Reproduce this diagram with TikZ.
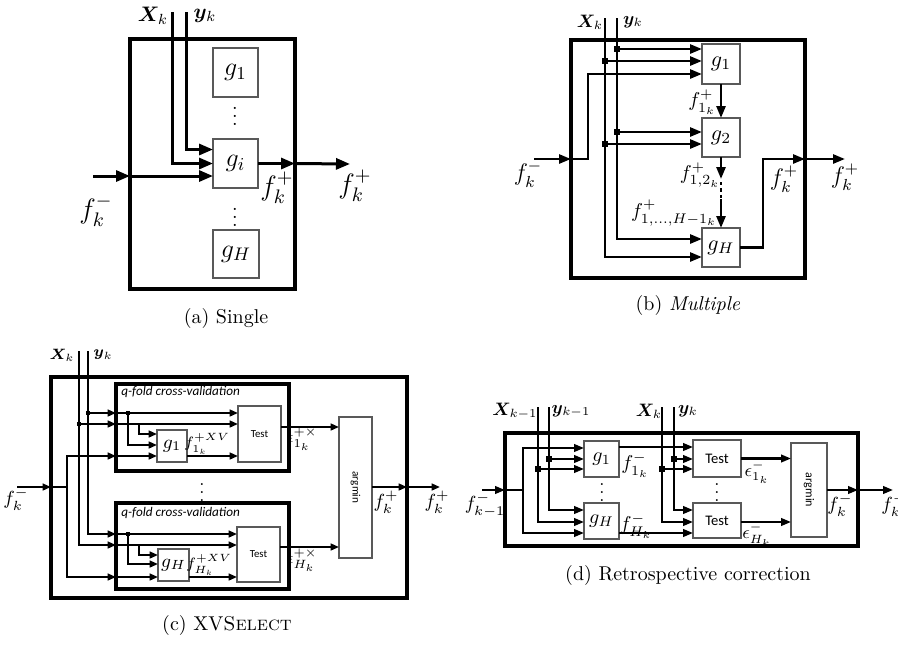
\RequirePackage{fix-cm}
\documentclass[tikz,border=0pt]{standalone}
\usepackage{fontspec}
\usepackage{amsmath,bm}
\newfontfamily\calfont{Carlito}
\usetikzlibrary{arrows.meta,calc}
\newcommand\bxn[7]{\node[#1,anchor=north west,inner sep=0pt,outer sep=0pt,minimum width={(#4-#2)*0.5pt},minimum height={(#5-#3)*0.5pt}] (#6) at (#2,#3) {#7};}
\begin{document}
\begin{tikzpicture}[x=0.5pt,y=-0.5pt,
  fs/.style={font=\fontsize{#1}{#1}\selectfont},
  lb/.style={inner sep=0pt},
  thinbox/.style={draw=black!65,line width=0.6pt,fill=white},
  junc/.style={fill=black,inner sep=0pt,minimum size=#1},
  junc/.default=3pt,
  cal/.style={font=\calfont\fontsize{#1}{#1}\selectfont},
  calit/.style={font=\calfont\itshape\fontsize{#1}{#1}\selectfont}]
\useasboundingbox (0,0) rectangle (898,644);

% ---------------- (a) Single
\begin{scope}[wire/.style={line width=1.5pt}, ar/.style={wire,-{Triangle[length=7pt,width=5.5pt]}}]
\bxn{draw,line width=2pt}{130}{39}{295}{289}{aout}{}
\bxn{thinbox,fs=13}{213}{48}{258}{97}{ag1}{$g_1$}
\bxn{thinbox,fs=13}{213}{139}{258}{188}{agi}{$g_i$}
\bxn{thinbox,fs=13}{213}{230}{259}{278}{agH}{$g_H$}
\node[lb,fs=10] (adots1) at (235,110) {$\vdots$};
\node[lb,fs=10] (adots2) at (235,211) {$\vdots$};
\node[lb,fs=10.5] (aXl) at (153,16) {$\bm{X}_k$};
\node[lb,fs=10.5] (ayl) at (205,16) {$\bm{y}_k$};
\coordinate (aXt) at (172,12);
\coordinate (ayt) at (186,12);
\coordinate (afin) at (93,176);
\coordinate (afout) at (350,164);
\draw[ar] (aXt) |- (agi.west);
\draw[ar] (ayt) |- ($(agi.west)+(0,-14)$);
\draw[ar] (afin) -- (aout.west |- afin);
\draw[ar] (aout.west |- afin) -- (agi.west |- afin);
\draw[ar] (agi.east) -- (aout.east |- agi.east);
\draw[ar] (aout.east |- agi.east) -- (afout);
\node[lb,fs=14] (afp1) at (277,188) {$f^+_k$};
\node[lb,fs=14] (afp2) at (355,186) {$f^+_k$};
\node[lb,fs=14] (afm) at (96,211) {$f^-_k$};
\node[lb] (acap) at (226,318) {(a) Single};
\end{scope}

% ---------------- (b) Multiple
\begin{scope}[wire/.style={line width=1.3pt}, ar/.style={wire,-{Triangle[length=6pt,width=4.5pt]}}]
\bxn{draw,line width=1.7pt}{571}{40}{805}{278}{bout}{}
\bxn{thinbox,fs=11}{702}{44}{740}{84}{bg1}{$g_1$}
\bxn{thinbox,fs=11}{702}{118}{740}{157}{bg2}{$g_2$}
\bxn{thinbox,fs=11}{702}{228}{740}{267}{bgH}{$g_H$}
\node[lb,fs=9] (bXl) at (590,22) {$\bm{X}_k$};
\node[lb,fs=9] (byl) at (633,22) {$\bm{y}_k$};
\coordinate (bXt) at (605,18);
\coordinate (byt) at (617,18);
\draw[ar] (bXt) |- ($(bgH.west)+(0,9.5)$);
\draw[ar] (byt) |- ($(bgH.west)+(0,-8.5)$);
\node[junc=3pt] (byj1) at (617,49) {};
\node[junc=2.6pt] (bXj1) at (605,61) {};
\node[junc=3pt] (byj2) at (617,132) {};
\node[junc=2.6pt] (bXj2) at (605,144) {};
\draw[ar] (byj1.center) -- (bg1.west |- byj1);
\draw[ar] (bXj1.center) -- (bg1.west |- bXj1);
\draw[ar] (byj2.center) -- (bg2.west |- byj2);
\draw[ar] (bXj2.center) -- (bg2.west |- bXj2);
\coordinate (bfin) at (534,159);
\coordinate (bfk) at (588,159);
\draw[ar] (bfin) -- (bout.west |- bfin);
\draw[ar] (bout.west |- bfin) -- (bfk) |- ($(bg1.west)+(0,10)$);
\draw[ar] (bg1.south) -- (bg2.north);
\coordinate (bc1) at (721,179);
\coordinate (bc1b) at (721,182);
\coordinate (bc2) at (721,199);
\draw[ar] (bg2.south) -- (bc1);
\draw[line width=1.3pt,dash pattern=on 1.6pt off 1.6pt] (bc1b) -- (bc2);
\draw[ar] (bc2) -- (bgH.north);
\coordinate (bo1) at (763,159);
\coordinate (bfout) at (845,159);
\draw[ar] (bgH.east) -| (bo1) -- (bout.east |- bo1);
\draw[ar] (bout.east |- bo1) -- (bfout);
\node[lb,fs=10] (bf1) at (702,102) {$f^+_{1_k}$};
\node[lb,fs=10] (bf12) at (700,175) {$f^+_{1,2_k}$};
\node[lb,fs=10] (bf1H) at (674,213) {$f^+_{1,\dots,H-1_k}$};
\node[lb,fs=12] (bfp1) at (784,179) {$f^+_k$};
\node[lb,fs=12] (bfp2) at (845,177) {$f^+_k$};
\node[lb,fs=12] (bfm) at (528,174) {$f^-_k$};
\node[lb] (bcap) at (688,305) {(b) \textit{Multiple}};
\end{scope}

% ---------------- (c) XVSelect
\begin{scope}[wire/.style={line width=1pt}, ar/.style={wire,-{Triangle[length=4.2pt,width=3.4pt]}}]
\bxn{draw,line width=1.6pt}{51}{377}{407}{598}{cout}{}
\bxn{draw,line width=1.6pt}{116}{384}{289}{471}{ci1}{}
\bxn{draw,line width=1.6pt}{116}{503}{289}{589}{ci2}{}
\node[lb,anchor=west,calit=6.6] (cq1) at (121,392) {q-fold cross-validation};
\node[lb,anchor=west,calit=6.6] (cq2) at (121,513) {q-fold cross-validation};
\bxn{thinbox,cal=5.4}{238}{406}{281}{462}{ct1}{Test}
\bxn{thinbox,cal=5.4}{237}{527}{280}{582}{ct2}{Test}
\bxn{thinbox,fs=9.5}{157}{430}{187}{462}{cg1}{$g_1$}
\bxn{thinbox,fs=9.5}{158}{549}{189}{581}{cgH}{$g_H$}
\bxn{thinbox}{339}{417}{372}{558}{ca}{}
\node[lb,rotate=-90,cal=5.6] (catx) at (ca.center) {argmin};
\node[lb,fs=7.5] (cXl) at (62,355) {$\bm{X}_k$};
\node[lb,fs=7.5] (cyl) at (103,355) {$\bm{y}_k$};
\coordinate (cXt) at (79,351);
\coordinate (cyt) at (88,351);
\coordinate (cXc) at (79,545);
\coordinate (cyc) at (88,534);
\draw[ar] (cXt) |- (ci2.west |- cXc);
\draw[ar] (ci2.west |- cXc) -- (ct2.west |- cXc);
\draw[ar] (cyt) |- (ci2.west |- cyc);
\draw[ar] (ci2.west |- cyc) -- (ct2.west |- cyc);
\node[junc=2.3pt] (cyj1) at (88,413) {};
\node[junc=2.3pt] (cXj1) at (79,424) {};
\draw[ar] (cyj1.center) -- (ci1.west |- cyj1);
\draw[ar] (ci1.west |- cyj1) -- (ct1.west |- cyj1);
\draw[ar] (cXj1.center) -- (ci1.west |- cXj1);
\draw[ar] (ci1.west |- cXj1) -- (ct1.west |- cXj1);
\node[junc=2.3pt] (cyk1) at (128,413) {};
\node[junc=2.3pt] (cyk2) at (128,534) {};
\coordinate (cxb1) at (139,424);
\coordinate (cxb2) at (139,545);
\draw[ar] (cyk1.center) |- ($(cg1.west)+(0,-1)$);
\draw[ar] (cxb1) |- ($(cg1.west)+(0,-12)$);
\draw[ar] (cyk2.center) |- ($(cgH.west)+(0,-1)$);
\draw[ar] (cxb2) |- ($(cgH.west)+(0,-10)$);
\coordinate (cfin) at (17,487);
\coordinate (cfv) at (67,487);
\coordinate (cf1) at (67,456);
\coordinate (cf2) at (67,577);
\draw[ar] (cfin) -- (cout.west |- cfin);
\draw[wire] (cout.west |- cfin) -- (cfv);
\draw[ar] (cfv) |- (ci1.west |- cf1);
\draw[ar] (cfv) |- (ci2.west |- cf2);
\draw[ar] (ci1.west |- cf1) -- (cg1.west |- cf1);
\draw[ar] (ci2.west |- cf2) -- (cgH.west |- cf2);
\draw[ar] (cg1.east |- cf1) -- (ct1.west |- cf1);
\draw[ar] (cgH.east |- cf2) -- (ct2.west |- cf2);
\coordinate (ce1) at (281,427);
\coordinate (ce2) at (280,547);
\draw[ar] (ct1.east |- ce1) -- (ca.west |- ce1);
\draw[ar] (ct2.east |- ce2) -- (ca.west |- ce2);
\coordinate (cfo) at (440,487);
\draw[ar] (ca.east |- cfo) -- (cout.east |- cfo);
\draw[ar] (cout.east |- cfo) -- (cfo);
\node[lb,fs=7.5] (cl1) at (207,444) {$f^{+XV}_{1_k}$};
\node[lb,fs=8] (cl2) at (302,439) {$\epsilon^{+\times}_{1_k}$};
\node[lb,fs=7.5] (cl3) at (209,565) {$f^{+XV}_{H_k}$};
\node[lb,fs=8] (cl4) at (302,560) {$\epsilon^{+\times}_{H_k}$};
\node[lb,fs=9.5] (cl5) at (386,502) {$f^+_k$};
\node[lb,fs=9.5] (cl6) at (437,502) {$f^+_k$};
\node[lb,fs=9.5] (cl7) at (16,499) {$f^-_k$};
\node[lb,fs=9] (cdots) at (202,487) {$\vdots$};
\node[lb] (ccap) at (227,625) {(c) XV\textsc{Select}};
\end{scope}

% ---------------- (d) Retrospective correction
\begin{scope}[wire/.style={line width=1.1pt}, ar/.style={wire,-{Triangle[length=5pt,width=3.8pt]}}]
\bxn{draw,line width=1.8pt}{505}{433}{858}{546}{dout}{}
\bxn{thinbox,fs=10}{584}{441}{619}{477}{dg1}{$g_1$}
\bxn{thinbox,fs=10}{584}{503}{619}{539}{dgH}{$g_H$}
\bxn{thinbox,cal=7.3}{693}{440}{741}{477}{dt1}{Test}
\bxn{thinbox,cal=7.3}{693}{503}{741}{538}{dt2}{Test}
\bxn{thinbox}{791}{443}{827}{537}{da}{}
\node[lb,rotate=-90,cal=6] (datx) at (da.center) {argmin};
\node[lb,fs=9] (dX1l) at (515,411) {$\bm{X}_{k-1}$};
\node[lb,fs=9] (dy1l) at (571,411) {$\bm{y}_{k-1}$};
\node[lb,fs=9] (dXl) at (649,411) {$\bm{X}_k$};
\node[lb,fs=9] (dyl) at (688,411) {$\bm{y}_k$};
\coordinate (dX1t) at (538,407);
\coordinate (dy1t) at (549,407);
\coordinate (dXt) at (662,407);
\coordinate (dyt) at (674,407);
\draw[ar] (dy1t) |- ($(dgH.west)+(0,-11)$);
\draw[ar] (dX1t) |- ($(dgH.west)+(0,1)$);
\node[junc=3pt] (dy1j) at (549,459) {};
\node[junc=3pt] (dX1j) at (538,469) {};
\draw[ar] (dy1j.center) -- (dg1.west |- dy1j);
\draw[ar] (dX1j.center) -- (dg1.west |- dX1j);
\coordinate (dfin) at (482,490);
\coordinate (dfv) at (523,490);
\draw[ar] (dfin) -- (dout.west |- dfin);
\draw[wire] (dout.west |- dfin) -- (dfv);
\draw[ar] (dfv) |- ($(dg1.west)+(0,-11)$);
\draw[ar] (dfv) |- ($(dgH.west)+(0,12)$);
\draw[ar] ($(dg1.east)+(0,-12)$) coordinate (dgo1) -- (dt1.west |- dgo1);
\draw[ar] ($(dgH.east)+(0,12)$) coordinate (dgo2) -- (dt2.west |- dgo2);
\draw[ar] (dyt) |- ($(dt2.west)+(0,-10.5)$);
\draw[ar] (dXt) |- ($(dt2.west)+(0,1.5)$);
\node[junc=3pt] (dyj) at (674,459) {};
\node[junc=3pt] (dXj) at (662,469) {};
\draw[ar] (dyj.center) -- (dt1.west |- dyj);
\draw[ar] (dXj.center) -- (dt1.west |- dXj);
\draw[ar] (dt1.east) -- (da.west |- dt1.east);
\draw[ar] ($(dt2.east)+(0,1.5)$) coordinate (dto2) -- (da.west |- dto2);
\coordinate (dfo) at (893,490);
\draw[ar] (da.east |- dfo) -- (dout.east |- dfo);
\draw[ar] (dout.east |- dfo) -- (dfo);
\node[lb,fs=10] (dl1) at (635,465) {$f^-_{1_k}$};
\node[lb,fs=10] (dl2) at (636,526) {$f^-_{H_k}$};
\node[lb,fs=9] (dl3) at (757,472) {$\epsilon^-_{1_k}$};
\node[lb,fs=9] (dl4) at (757,535) {$\epsilon^-_{H_k}$};
\node[lb,fs=9.5] (dl5) at (840,505) {$f^-_k$};
\node[lb,fs=9.5] (dl6) at (894,505) {$f^-_k$};
\node[lb,fs=9.5] (dl7) at (485,505) {$f^-_{k-1}$};
\node[lb,fs=9] (ddots1) at (602,487) {$\vdots$};
\node[lb,fs=9] (ddots2) at (717,487) {$\vdots$};
\node[lb] (dcap) at (688,575) {(d) Retrospective correction};
\end{scope}
\end{tikzpicture}
\end{document}
